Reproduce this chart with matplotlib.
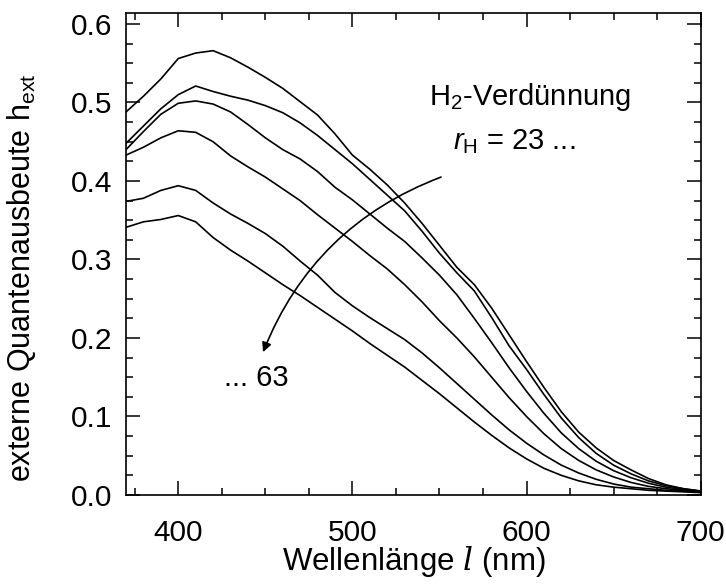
import matplotlib
matplotlib.use("Agg")
import matplotlib.pyplot as plt
from matplotlib.ticker import MultipleLocator, FormatStrFormatter

wavelength = [370, 380, 390, 400, 410, 420, 430, 440, 450, 460, 470, 480, 490, 500,
              510, 520, 530, 540, 550, 560, 570, 580, 590, 600, 610, 620, 630, 640,
              650, 660, 670, 680, 690, 700]

eqe_1 = [0.488, 0.508, 0.530, 0.556, 0.563, 0.566, 0.557, 0.545, 0.532, 0.518, 0.501,
         0.484, 0.460, 0.433, 0.415, 0.395, 0.372, 0.346, 0.318, 0.290, 0.268, 0.238,
         0.204, 0.170, 0.137, 0.106, 0.080, 0.060, 0.044, 0.032, 0.021, 0.013, 0.008, 0.005]
eqe_2 = [0.448, 0.470, 0.492, 0.510, 0.521, 0.514, 0.508, 0.503, 0.496, 0.487, 0.474,
         0.458, 0.440, 0.422, 0.402, 0.382, 0.362, 0.336, 0.308, 0.283, 0.260, 0.226,
         0.190, 0.160, 0.128, 0.098, 0.073, 0.053, 0.038, 0.027, 0.018, 0.012, 0.008, 0.005]
eqe_3 = [0.440, 0.463, 0.485, 0.499, 0.502, 0.498, 0.488, 0.472, 0.455, 0.440, 0.428,
         0.412, 0.392, 0.376, 0.358, 0.340, 0.323, 0.302, 0.280, 0.255, 0.225, 0.194,
         0.162, 0.132, 0.104, 0.079, 0.059, 0.043, 0.031, 0.022, 0.015, 0.010, 0.007, 0.004]
eqe_4 = [0.433, 0.443, 0.455, 0.464, 0.462, 0.450, 0.432, 0.418, 0.405, 0.390, 0.375,
         0.357, 0.340, 0.323, 0.305, 0.288, 0.268, 0.246, 0.222, 0.200, 0.176, 0.150,
         0.124, 0.100, 0.078, 0.059, 0.044, 0.032, 0.023, 0.016, 0.011, 0.008, 0.006, 0.004]
eqe_5 = [0.374, 0.378, 0.388, 0.394, 0.388, 0.372, 0.358, 0.346, 0.333, 0.317, 0.298,
         0.280, 0.258, 0.241, 0.226, 0.212, 0.198, 0.181, 0.162, 0.142, 0.122, 0.102,
         0.083, 0.066, 0.051, 0.038, 0.028, 0.020, 0.014, 0.010, 0.008, 0.006, 0.005, 0.004]
eqe_6 = [0.341, 0.348, 0.351, 0.356, 0.348, 0.328, 0.312, 0.298, 0.283, 0.268, 0.254,
         0.239, 0.224, 0.209, 0.193, 0.178, 0.163, 0.146, 0.129, 0.111, 0.093, 0.076,
         0.060, 0.046, 0.034, 0.025, 0.018, 0.013, 0.010, 0.008, 0.006, 0.005, 0.004, 0.003]

series = [eqe_1, eqe_2, eqe_3, eqe_4, eqe_5, eqe_6]

plt.rcParams['font.family'] = ['Liberation Sans', 'DejaVu Sans']
plt.rcParams['mathtext.fontset'] = 'custom'
plt.rcParams['mathtext.rm'] = 'Liberation Sans'
plt.rcParams['mathtext.it'] = 'Liberation Sans:italic'
plt.rcParams['mathtext.cal'] = 'DejaVu Serif:italic'

fig = plt.figure(figsize=(7.26, 5.84), dpi=100)
ax = fig.add_axes([0.1736, 0.1524, 0.7915, 0.8248])

for s in series:
    ax.plot(wavelength, s, color='black', lw=1.2)

ax.set_xlim(370, 700)
ax.set_ylim(0, 0.6136)
ax.xaxis.set_major_locator(MultipleLocator(100))
ax.xaxis.set_minor_locator(MultipleLocator(25))
ax.yaxis.set_major_locator(MultipleLocator(0.1))
ax.yaxis.set_minor_locator(MultipleLocator(0.025))
ax.yaxis.set_major_formatter(FormatStrFormatter('%.1f'))
ax.tick_params(which='both', direction='in', top=True, right=True, width=1.1,
               labelsize=21.5)
ax.tick_params(which='major', length=10)
ax.tick_params(which='minor', length=5)
ax.tick_params(axis='y', which='major', pad=10)
ax.tick_params(axis='x', which='major', pad=17)
for sp in ax.spines.values():
    sp.set_linewidth(1.2)

fig.text(22 / 726, 1 - 278 / 584, 'externe Quantenausbeute h$_{\\mathregular{ext}}$',
         fontsize=22, rotation=90, ha='center', va='center')
fig.text(0.570, 0.024, 'Wellenlänge $\\mathcal{l}$ (nm)', fontsize=22.5,
         ha='center', va='baseline')

ax.text(602, 0.507, 'H$_2$-Verdünnung', fontsize=21, ha='center', va='center')
ax.text(593, 0.45, '$\\mathit{r}_{\\mathregular{H}}$ = 23 ...', fontsize=21,
        ha='center', va='center')
ax.text(445, 0.149, '... 63', fontsize=21, ha='center', va='center')

ax.annotate('', xy=(448.7, 0.182), xytext=(550.9, 0.405),
            arrowprops=dict(arrowstyle='-|>', color='black', lw=1.2,
                            connectionstyle='arc3,rad=0.22',
                            shrinkA=0, shrinkB=0, mutation_scale=14))

fig.savefig('out.png', dpi=100)
